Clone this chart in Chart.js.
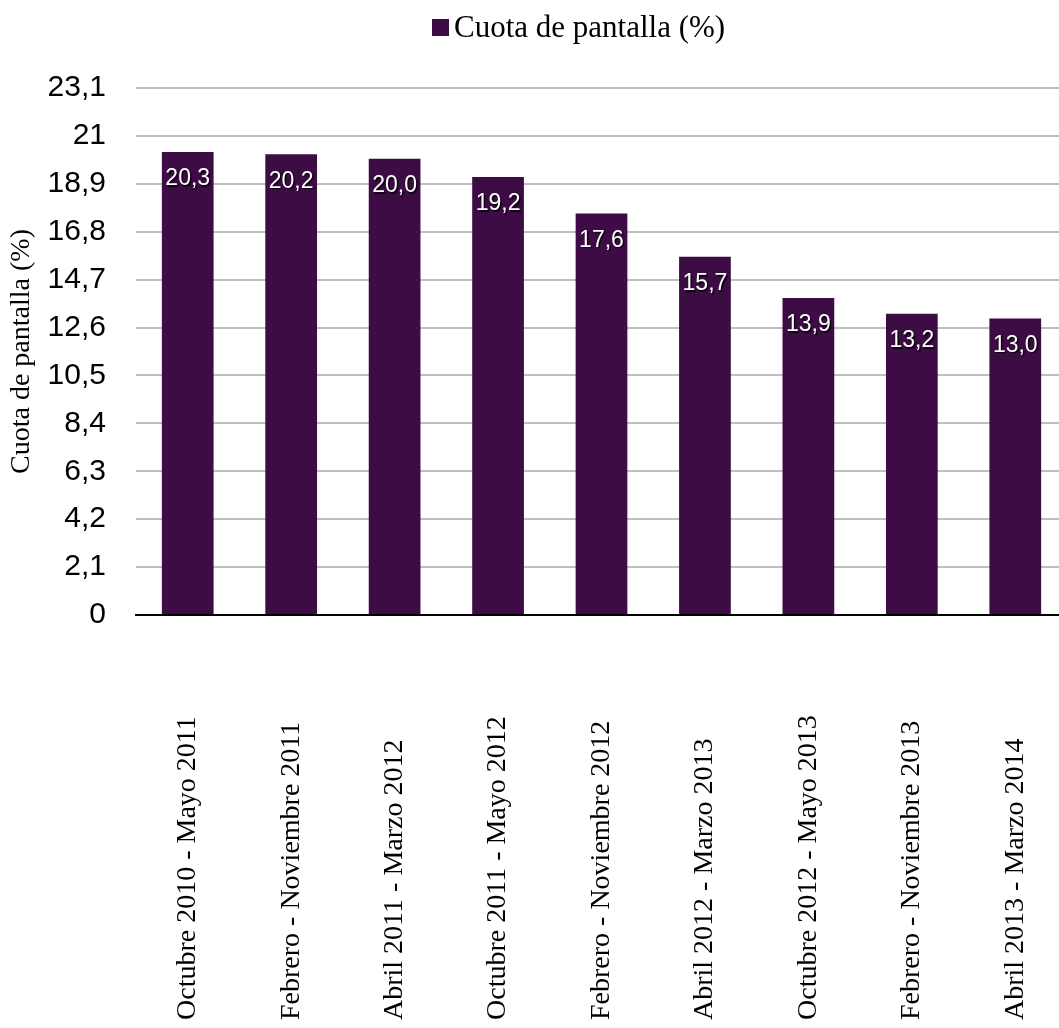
<!DOCTYPE html>
<html>
<head>
<meta charset="utf-8">
<script src="https://cdn.jsdelivr.net/npm/chart.js@4"></script>
<style>
  html, body { margin: 0; padding: 0; background: #fff; overflow: hidden; }
  #wrap { position: relative; width: 1068px; height: 1028px; }
</style>
</head>
<body>
<div id="wrap"><canvas id="myChart"></canvas></div>
<script>
const categories = [
    'Octubre 2010 - Mayo 2011',
    'Febrero - Noviembre 2011',
    'Abril 2011 - Marzo 2012',
    'Octubre 2011 - Mayo 2012',
    'Febrero - Noviembre 2012',
    'Abril 2012 - Marzo 2013',
    'Octubre 2012 - Mayo 2013',
    'Febrero - Noviembre 2013',
    'Abril 2013 - Marzo 2014'
];
const shareValues = [20.3, 20.2, 20.0, 19.2, 17.6, 15.7, 13.9, 13.2, 13.0];
const yTickValues = [0, 2.1, 4.2, 6.3, 8.4, 10.5, 12.6, 14.7, 16.8, 18.9, 21, 23.1];
const seriesName = 'Cuota de pantalla (%)';
const yAxisTitle = 'Cuota de pantalla (%)';

const barColor = '#3d0c45';
const serif = '"Liberation Serif", "Times New Roman", serif';
const sans = '"Liberation Sans", Arial, sans-serif';

const comma = v => String(v).replace('.', ',');

// white value labels near the top of each bar
const barLabels = {
    id: 'barLabels',
    afterDatasetsDraw(chart) {
        const ctx = chart.ctx;
        const meta = chart.getDatasetMeta(0);
        ctx.save();
        ctx.font = '23px ' + sans;
        ctx.fillStyle = '#fff';
        ctx.textAlign = 'center';
        ctx.textBaseline = 'middle';
        ctx.shadowColor = 'rgba(0,0,0,0.85)';
        ctx.shadowOffsetX = 1.5;
        ctx.shadowOffsetY = 1.5;
        ctx.shadowBlur = 1;
        meta.data.forEach((bar, i) => {
            ctx.fillText(shareValues[i].toFixed(1).replace('.', ','), bar.x, bar.y + 27);
        });
        ctx.restore();
    }
};

// vertical category labels, aligned at the bottom of the page
const xLabels = {
    id: 'xLabels',
    afterDraw(chart) {
        const ctx = chart.ctx;
        const xs = chart.scales.x;
        ctx.save();
        ctx.font = '28px ' + serif;
        ctx.fillStyle = '#000';
        categories.forEach((c, i) => {
            ctx.save();
            ctx.translate(xs.getPixelForTick(i), chart.height - 8);
            ctx.rotate(-Math.PI / 2);
            ctx.textAlign = 'left';
            ctx.textBaseline = 'middle';
            ctx.fillText(c, 0, 0);
            ctx.restore();
        });
        ctx.restore();
    }
};

// legend at the top
const topLegend = {
    id: 'topLegend',
    afterDraw(chart) {
        const ctx = chart.ctx;
        ctx.save();
        ctx.fillStyle = barColor;
        ctx.fillRect(432, 19, 17, 17);
        ctx.fillStyle = '#000';
        ctx.font = '31px ' + serif;
        ctx.textAlign = 'left';
        ctx.textBaseline = 'middle';
        ctx.fillText(seriesName, 454, 29);
        ctx.restore();
    }
};

document.addEventListener('DOMContentLoaded', () => {
    const ctx = document.getElementById('myChart').getContext('2d');
    new Chart(ctx, {
        type: 'bar',
        data: {
            labels: categories,
            datasets: [{
                label: seriesName,
                data: shareValues,
                backgroundColor: barColor,
                borderWidth: 0,
                categoryPercentage: 1,
                barPercentage: 0.5
            }]
        },
        options: {
            responsive: true,
            maintainAspectRatio: false,
            animation: false,
            layout: { padding: { top: 88, right: 1, bottom: 413, left: 0 } },
            plugins: {
                legend: { display: false },
                tooltip: { enabled: false }
            },
            scales: {
                x: {
                    ticks: { display: false },
                    grid: { display: false, drawTicks: false },
                    border: { display: true, color: '#000', width: 2 }
                },
                y: {
                    min: 0,
                    max: 23.1,
                    afterBuildTicks: scale => {
                        scale.ticks = yTickValues.map(v => ({ value: v }));
                    },
                    afterFit: scale => { scale.width = 136; },
                    ticks: {
                        padding: 30,
                        color: '#000',
                        font: { family: sans, size: 30 },
                        callback: v => comma(v)
                    },
                    grid: { color: '#bfbfbf', lineWidth: 2, drawTicks: false },
                    border: { display: false },
                    title: {
                        display: true,
                        text: yAxisTitle,
                        color: '#000',
                        font: { family: serif, size: 28 },
                        padding: { top: 5, bottom: 0 }
                    }
                }
            }
        },
        plugins: [barLabels, xLabels, topLegend]
    });
});
</script>
</body>
</html>
